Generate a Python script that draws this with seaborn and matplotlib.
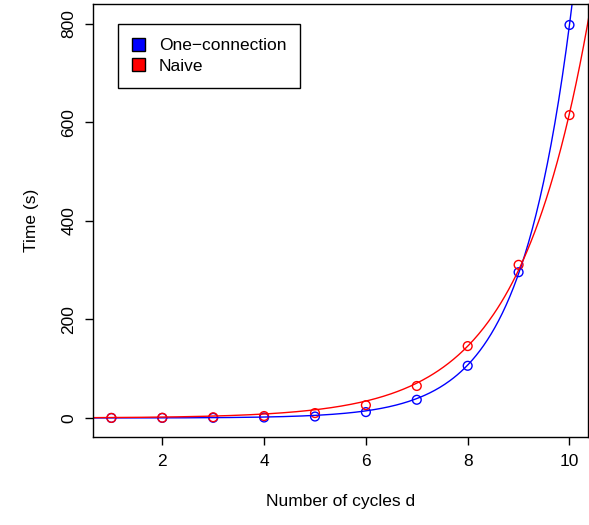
import numpy as np
import pandas as pd
import matplotlib
matplotlib.use("Agg")
import matplotlib.pyplot as plt
import matplotlib.patches as mpatches
import seaborn as sns

cycles = [1, 2, 3, 4, 5, 6, 7, 8, 9, 10]
one_connection = [0.1, 0.2, 0.4, 1, 3, 12, 37, 106, 296, 798]
naive = [0.2, 0.5, 1.5, 4, 10, 26, 65, 146, 311, 615]
series_names = ["One\u2212connection", "Naive"]
series_colors = ["blue", "red"]

sns.set_style("white", {"text.color": "black", "axes.labelcolor": "black",
                        "xtick.color": "black", "ytick.color": "black"})
plt.rcParams["font.family"] = ["Liberation Sans", "DejaVu Sans"]


def exp_fit(x, y):
    # least squares fit y = a*exp(b*x)
    x = np.asarray(x, float)
    y = np.asarray(y, float)
    best = None
    for b in np.linspace(0.3, 1.5, 2401):
        e = np.exp(b * x)
        a = (y * e).sum() / (e * e).sum()
        sse = ((y - a * e) ** 2).sum()
        if best is None or sse < best[0]:
            best = (sse, a, b)
    return best[1], best[2]


fig = plt.figure(figsize=(5.89, 5.25), dpi=100)
ax = fig.add_axes([0.158, 0.1676, 0.998 - 0.158, 0.9924 - 0.1676])

xs = np.linspace(0.6, 10.4, 400)
for name, vals, col in zip(series_names, [one_connection, naive], series_colors):
    a, b = exp_fit(cycles, vals)
    curve = pd.DataFrame({"x": xs, "y": a * np.exp(b * xs)})
    sns.lineplot(data=curve, x="x", y="y", color=col, lw=1, ax=ax)
    pts = pd.DataFrame({"x": cycles, "y": vals})
    sns.scatterplot(data=pts, x="x", y="y", marker="o", s=40,
                    facecolors="none", edgecolor=col, linewidth=1, ax=ax)

ax.set_xlim(0.64, 10.36)
ax.set_ylim(-38.6, 840.6)
ax.set_xticks([2, 4, 6, 8, 10])
ax.set_yticks([0, 200, 400, 600, 800])
ax.set_yticklabels(["0", "200", "400", "600", "800"], rotation=90, va="center")
ax.tick_params(direction="out", length=6, width=1, colors="black",
               labelsize=12.5, pad=6, bottom=True, left=True)
for s in ax.spines.values():
    s.set_color("black")
    s.set_linewidth(1)

ax.set_xlabel("Number of cycles d", fontsize=12.5, labelpad=18, color="black")
ax.set_ylabel("Time (s)", fontsize=12.5, labelpad=16, color="black")

handles = [mpatches.Patch(facecolor=c, edgecolor="black", label=n)
           for n, c in zip(series_names, series_colors)]
leg = ax.legend(handles=handles, loc="upper left", bbox_to_anchor=(0.0505, 0.954),
                borderaxespad=0, fontsize=12.5, frameon=True, fancybox=False,
                framealpha=1, edgecolor="black", handlelength=0.75,
                handleheight=0.75, labelspacing=0.3, borderpad=0.8,
                handletextpad=0.8)
leg.get_frame().set_linewidth(1)
for t in leg.get_texts():
    t.set_color("black")

fig.savefig("out.png", dpi=100)
